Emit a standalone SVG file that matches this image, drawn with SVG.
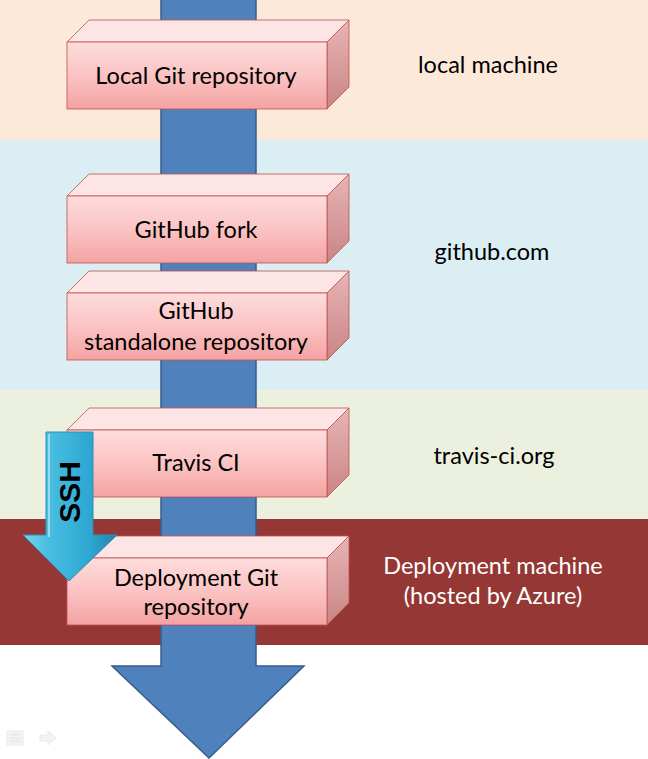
<svg xmlns="http://www.w3.org/2000/svg" width="648" height="759" viewBox="0 0 648 759">
<defs>
<linearGradient id="gFront" x1="0" y1="0" x2="0" y2="1">
<stop offset="0" stop-color="#FEDCDC"/>
<stop offset="0.5" stop-color="#FBC3C3"/>
<stop offset="1" stop-color="#F4A2A2"/>
</linearGradient>
<linearGradient id="gTop" x1="0" y1="0" x2="0" y2="1">
<stop offset="0" stop-color="#FBE4E4"/>
<stop offset="1" stop-color="#FFE6E6"/>
</linearGradient>
<linearGradient id="gSide" x1="0" y1="0" x2="0" y2="1">
<stop offset="0" stop-color="#E8B4B4"/>
<stop offset="1" stop-color="#C98585"/>
</linearGradient>
<linearGradient id="gSsh" x1="0" y1="0" x2="1" y2="0">
<stop offset="0" stop-color="#7FD3EC"/>
<stop offset="0.25" stop-color="#4BBFE2"/>
<stop offset="0.7" stop-color="#2EA8D2"/>
<stop offset="1" stop-color="#1E86B0"/>
</linearGradient>
<style>
.box-front{fill:url(#gFront);stroke:#C0504D;stroke-width:0.8}
.box-top{fill:url(#gTop);stroke:#C0504D;stroke-width:0.8}
.box-side{fill:url(#gSide);stroke:#C0504D;stroke-width:0.8}
.lbl{font-family:Lato,"Open Sans",sans-serif;font-size:23.5px;fill:#000;text-anchor:middle}
.zone{font-family:Lato,"Open Sans",sans-serif;font-size:23.5px;fill:#000;text-anchor:middle}
.zone-w{fill:#FFFFFF}
</style>
</defs>

<g id="bands">
<rect x="0" y="0" width="648" height="140" fill="#FDE9D9"/>
<rect x="0" y="140" width="648" height="250" fill="#DBEEF4"/>
<rect x="0" y="390" width="648" height="129" fill="#EBF1DE"/>
<rect x="0" y="519" width="648" height="126" fill="#953735"/>
<rect x="0" y="645" width="648" height="114" fill="#FFFFFF"/>
</g>

<g id="connectors">
<path d="M161,-2 L256,-2 L256,666 L304,666 L209,758 L112,666 L161,666 Z" fill="#4F81BD" stroke="#385D8A" stroke-width="1.5"/>
</g>

<g id="node-local">
<polygon class="box-top" points="67,42 89,20 349,20 327,42"/>
<polygon class="box-side" points="327,42 349,20 349,87 327,109"/>
<rect class="box-front" x="67" y="42" width="260" height="67"/>
<text class="lbl" x="196" y="84">Local Git repository</text>
</g>

<g id="node-fork">
<polygon class="box-top" points="67,196 89,174 349,174 327,196"/>
<polygon class="box-side" points="327,196 349,174 349,241 327,263"/>
<rect class="box-front" x="67" y="196" width="260" height="67"/>
<text class="lbl" x="196" y="238">GitHub fork</text>
</g>

<g id="node-standalone">
<polygon class="box-top" points="67,293 89,271 349,271 327,293"/>
<polygon class="box-side" points="327,293 349,271 349,338 327,360"/>
<rect class="box-front" x="67" y="293" width="260" height="67"/>
<text class="lbl" x="196" y="319">GitHub</text>
<text class="lbl" x="196" y="350">standalone repository</text>
</g>

<g id="node-travis">
<polygon class="box-top" points="67,430 89,408 349,408 327,430"/>
<polygon class="box-side" points="327,430 349,408 349,475 327,497"/>
<rect class="box-front" x="67" y="430" width="260" height="67"/>
<text class="lbl" x="196" y="471">Travis CI</text>
</g>

<g id="node-deploy">
<polygon class="box-top" points="67,558 89,536 349,536 327,558"/>
<polygon class="box-side" points="327,558 349,536 349,603 327,625"/>
<rect class="box-front" x="67" y="558" width="260" height="67"/>
<text class="lbl" x="196" y="586">Deployment Git</text>
<text class="lbl" x="196" y="615">repository</text>
</g>

<g id="ssh-arrow">
<path d="M46,432 L93,432 L93,535 L117,535 L69,581 L23,535 L46,535 Z" fill="url(#gSsh)" stroke="#2C8FB8" stroke-width="1"/>
<path d="M49,434 L49,537" stroke="#B5E8F6" stroke-width="2" opacity="0.7"/>
<text x="0" y="0" transform="translate(80,492) rotate(-90)" font-family="'Liberation Sans',Arial,sans-serif" font-weight="bold" font-size="30" fill="#000" text-anchor="middle">SSH</text>
</g>

<g id="zone-labels">
<text class="zone" x="488" y="73">local machine</text>
<text class="zone" x="492" y="260">github.com</text>
<text class="zone" x="494" y="464">travis-ci.org</text>
<text class="zone zone-w" x="493" y="574">Deployment machine</text>
<text class="zone zone-w" x="493" y="604">(hosted by Azure)</text>
</g>

<g id="slide-controls" opacity="0.5">
<rect x="7" y="731" width="16" height="14" fill="#E8E8E8" stroke="#D0D0D0" stroke-width="0.8"/>
<path d="M10,735 H20 M10,738 H20 M10,741 H20" stroke="#C8C8C8" stroke-width="1"/>
<path d="M40,735 H48 V731 L56,738 L48,745 V741 H40 Z" fill="#E8E8E8" stroke="#D0D0D0" stroke-width="0.8"/>
</g>
</svg>
